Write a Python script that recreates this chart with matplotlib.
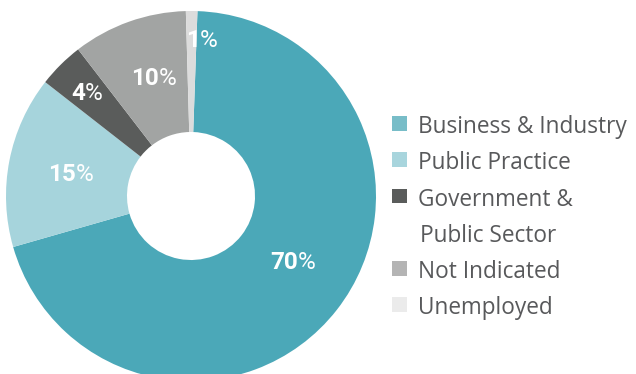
import matplotlib
matplotlib.use("Agg")
import matplotlib.pyplot as plt
import matplotlib.transforms as mtransforms
from matplotlib.patches import Rectangle
import numpy as np

# ---- data ----
categories = ["Business & Industry", "Public Practice",
              "Government &\nPublic Sector", "Not Indicated", "Unemployed"]
shares = [70, 15, 4, 10, 1]

# ---- styles ----
wedge_colors = ["#4BA8B8", "#A6D4DC", "#5A5C5B", "#A2A4A3", "#DCDCDC"]
swatch_colors = ["#78BDC8", "#A8D5DD", "#5A5C5B", "#B4B4B4", "#EBEBEB"]
label_radius = [0.65, 0.664, 0.80, 0.677, 0.855]   # fraction of outer radius
label_turn = [5.6, 0.0, 0.0, -2.3, -3.8]           # degrees off wedge middle

W, H, DPI = 636, 374, 100
LABEL_FONT = "Roboto"
LEGEND_FONT = "Open Sans"

fig = plt.figure(figsize=(W / DPI, H / DPI), dpi=DPI)
fig.patch.set_facecolor("white")

# donut placed by pixel centre / radius (measured from the top-left corner)
cx, cy, R = 191, 196, 185
ax = fig.add_axes([(cx - R) / W, (H - cy - R) / H, 2 * R / W, 2 * R / H])

wedges, _ = ax.pie(shares, colors=wedge_colors, startangle=88,
                   counterclock=False, radius=1,
                   wedgeprops=dict(width=0.654, linewidth=0))
ax.set_xlim(-1, 1)
ax.set_ylim(-1, 1)
ax.set_aspect("equal")
ax.axis("off")

# percentage labels: bold number followed by a regular-weight "%"
renderer = fig.canvas.get_renderer()
fs = 17.5
cap_px = 0.711 * fs * DPI / 72
for w, val, rf, turn in zip(wedges, shares, label_radius, label_turn):
    th = np.deg2rad((w.theta1 + w.theta2) / 2 + turn)
    x, y = rf * np.cos(th), rf * np.sin(th)
    num = ax.text(x, y, f"{val}", ha="right", va="baseline", fontsize=fs,
                  fontweight="bold", color="white", family=LABEL_FONT)
    pct = ax.text(x, y, "%", ha="left", va="baseline", fontsize=fs,
                  color="white", family=LABEL_FONT)
    wn = num.get_window_extent(renderer).width
    wp = pct.get_window_extent(renderer).width
    tr = mtransforms.offset_copy(ax.transData, fig=fig,
                                 x=(wn - wp) / 2, y=-cap_px / 2, units="dots")
    num.set_transform(tr)
    pct.set_transform(tr)

# legend, laid out in pixels from the top-left corner
def px(x, y):
    return x / W, 1 - y / H

base0, step = 133.3, 36.2
line = 0
for cat, col in zip(categories, swatch_colors):
    base = base0 + step * line
    x0, y0 = px(392, base - 2.5)
    fig.patches.append(Rectangle((x0, y0), 14.5 / W, 14.5 / H,
                                 transform=fig.transFigure,
                                 facecolor=col, edgecolor="none"))
    for k, part in enumerate(cat.split("\n")):
        tx, ty = px(418 + (2 if k else 0), base + step * k)
        fig.text(tx, ty, part, ha="left", va="baseline", fontsize=16.3,
                 color="#58595B", family=LEGEND_FONT)
    line += len(cat.split("\n"))

fig.savefig("out.png", dpi=DPI, facecolor="white")
